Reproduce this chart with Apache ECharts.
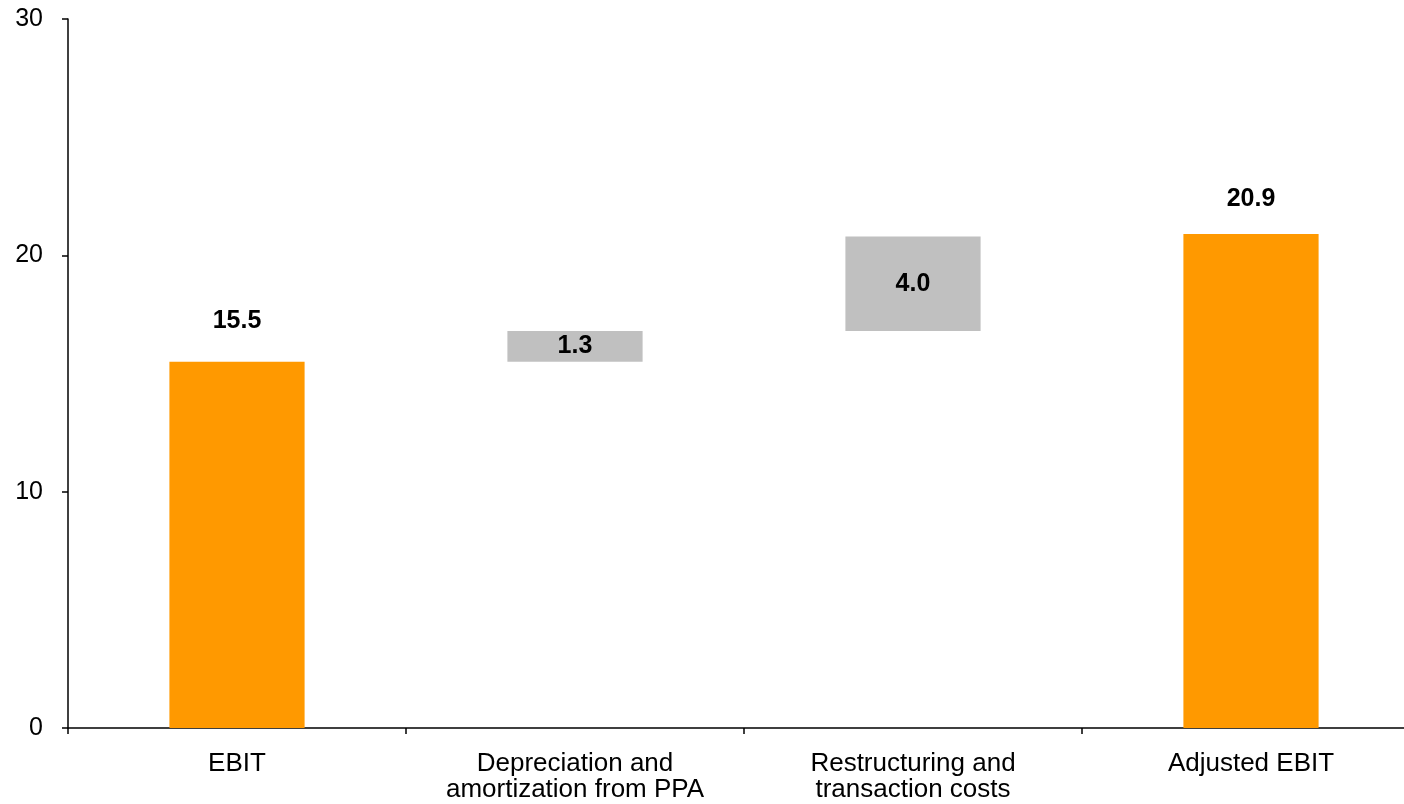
<!DOCTYPE html>
<html>
<head>
<meta charset="utf-8">
<script src="https://cdn.jsdelivr.net/npm/echarts@6/dist/echarts.min.js"></script>
<style>
html, body { margin: 0; padding: 0; background: #fff; overflow: hidden; }
#chart { width: 1420px; height: 804px; }
</style>
</head>
<body>
<div id="chart"></div>
<script>
// EBIT bridge: starting value, adjustments, adjusted result
const categories = ['EBIT', 'Depreciation and\namortization from PPA', 'Restructuring and\ntransaction costs', 'Adjusted EBIT'];
const totals = [15.5, null, null, 20.9];
const adjustments = [null, 1.3, 4.0, null];
const yTicks = [0, 10, 20, 30];

// invisible base under each adjustment = running total before it
const base = [];
let running = 0;
for (let i = 0; i < categories.length; i++) {
  if (totals[i] != null) { base.push(null); running = totals[i]; }
  else { base.push(running); running += adjustments[i]; }
}

// gap between each total bar and its value label
const totalLabelGap = [28, null, null, 22];
const totalData = totals.map((v, i) => v == null ? null : { value: v, label: { distance: totalLabelGap[i] } });

const chart = echarts.init(document.getElementById('chart'));
const font = 'Liberation Sans, Arial, sans-serif';
chart.setOption({
  animation: false,
  grid: { left: 68, right: 0, top: 19, bottom: 76, containLabel: false },
  xAxis: {
    type: 'category',
    data: categories,
    axisLine: { lineStyle: { color: '#000', width: 1.5 } },
    axisTick: { show: true, length: 6, alignWithLabel: false, lineStyle: { color: '#000', width: 1.5 } },
    axisLabel: { color: '#000', fontSize: 26, fontFamily: font, margin: 23, lineHeight: 26, interval: 0 }
  },
  yAxis: {
    type: 'value',
    min: yTicks[0], max: yTicks[yTicks.length - 1], interval: 10,
    splitLine: { show: false },
    axisLine: { show: true, lineStyle: { color: '#000', width: 1.5 } },
    axisTick: { show: true, length: 6, lineStyle: { color: '#000', width: 1.5 } },
    axisLabel: { color: '#000', fontSize: 25, fontFamily: font, margin: 25 }
  },
  series: [
    {
      type: 'bar', stack: 'w', data: base, barWidth: '40%',
      itemStyle: { color: 'transparent' }, silent: true
    },
    {
      type: 'bar', stack: 'w', data: adjustments, barWidth: '40%',
      itemStyle: { color: '#C0C0C0' },
      label: { show: true, position: 'inside', color: '#000', fontWeight: 'bold', fontSize: 25, fontFamily: font,
        formatter: p => p.value.toFixed(1) }
    },
    {
      type: 'bar', stack: 'w', data: totalData, barWidth: '40%',
      itemStyle: { color: '#FF9900' },
      label: { show: true, position: 'top', color: '#000', fontWeight: 'bold', fontSize: 25, fontFamily: font,
        formatter: p => p.value.toFixed(1) }
    }
  ]
});
</script>
</body>
</html>
